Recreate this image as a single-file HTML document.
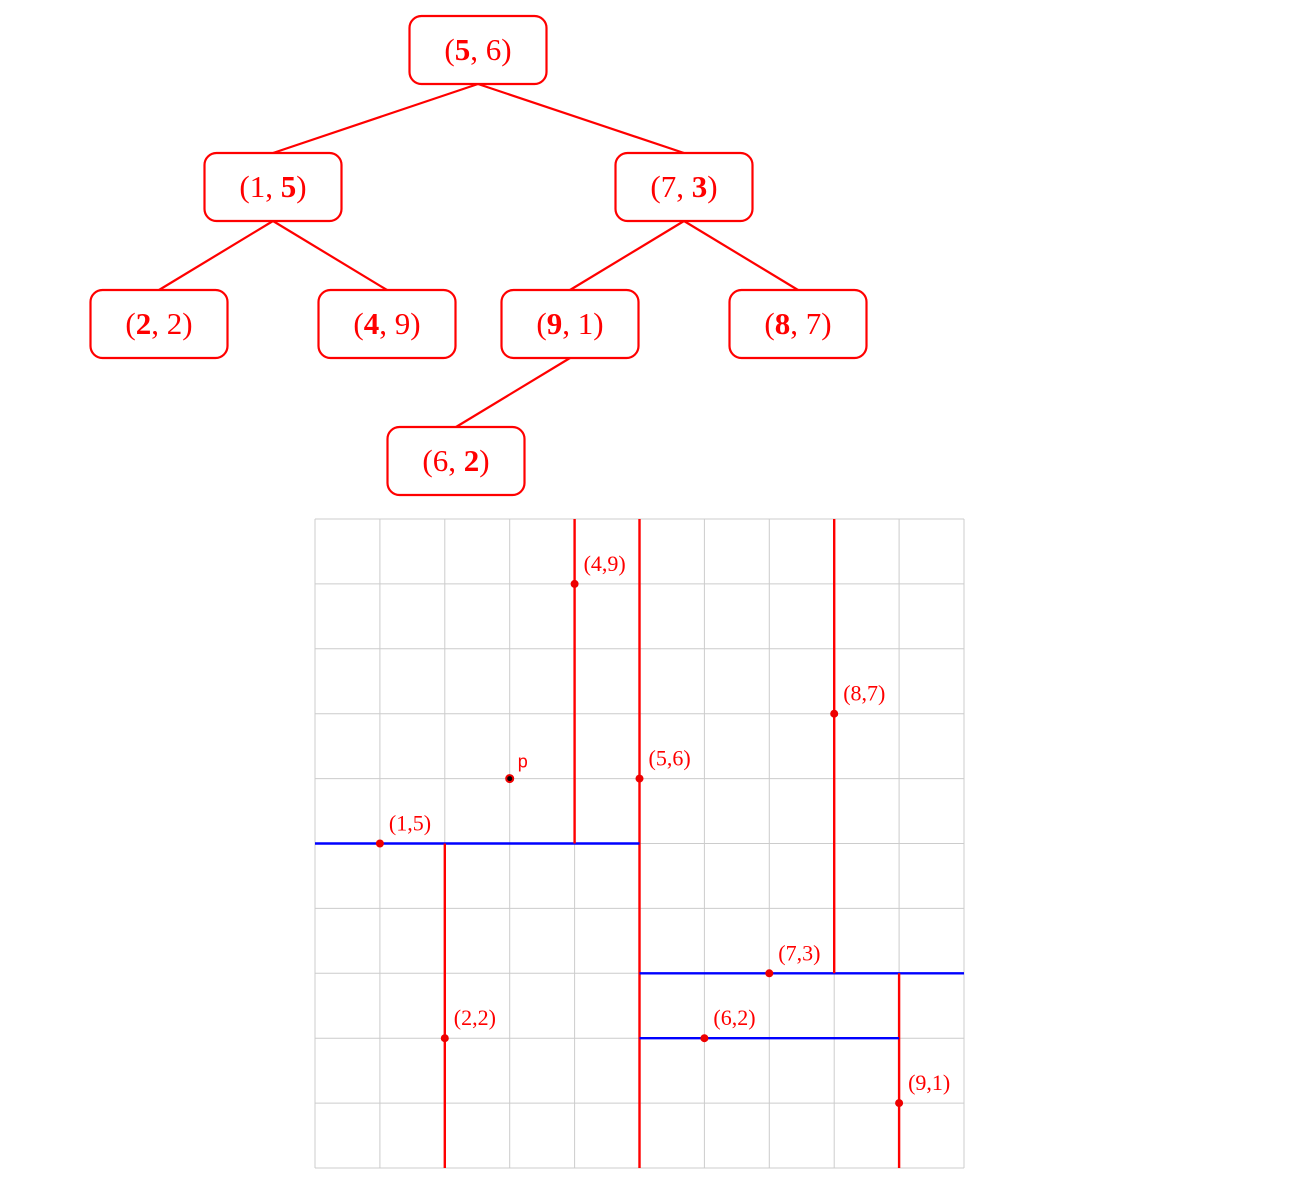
<!DOCTYPE html>
<html><head><meta charset="utf-8"><style>
html,body{margin:0;padding:0;background:#fff;}
svg{display:block;}
text{font-family:"Liberation Serif",serif;fill:#f00;}
</style></head><body>
<svg id="c" width="1291" height="1188" xmlns="http://www.w3.org/2000/svg"></svg>
<script>
const nodeLabels=[["5","6",0],["1","5",1],["7","3",1],["2","2",0],["4","9",0],["9","1",0],["8","7",0],["6","2",1]];
const nodeCenters=[[478,50],[273,187],[684,187],[159,324],[387,324],[570,324],[798,324],[456,461]];
const edges=[[0,1],[0,2],[1,3],[1,4],[2,5],[2,6],[5,7]];
const pointsX=[5,1,7,2,4,9,8,6];
const pointsY=[6,5,3,2,9,1,7,2];
const queryPoint=[3,6];
// splitting lines: [axis, value, from, to]
const splitAxis=["x","y","x","x","y","x","x","y"];
const splitVal=[5,5,4,2,3,8,9,2];
const splitFrom=[0,0,5,0,5,3,0,5];
const splitTo=[10,5,10,5,10,10,3,9];
const gridTicks=[0,1,2,3,4,5,6,7,8,9,10];

const svg=document.getElementById('c');
const NS="http://www.w3.org/2000/svg";
function mk(t,a,p){const e=document.createElementNS(NS,t);for(const k in a)e.setAttribute(k,a[k]);(p||svg).appendChild(e);return e;}
const X0=315,X1=964,Y0=1168,Y1=519;
const sx=v=>X0+(X1-X0)*v/10, sy=v=>Y0-(Y0-Y1)*v/10;
const W=137,H=68;
edges.forEach(([a,b])=>{
  const l=mk('line',{x1:nodeCenters[a][0],y1:nodeCenters[a][1]+H/2,x2:nodeCenters[b][0],y2:nodeCenters[b][1]-H/2,stroke:'#f00','stroke-width':2.2});
  
  
});
nodeLabels.forEach((n,i)=>{
  const [cx,cy]=nodeCenters[i];
  const r=mk('rect',{x:cx-W/2,y:cy-H/2,width:W,height:H,rx:12,fill:'#fff',stroke:'#f00','stroke-width':2.2});
  
  
  const t=mk('text',{x:cx,y:cy+10,'text-anchor':'middle','font-size':31});
  
  
  const b=n[2];
  t.innerHTML='('+(b===0?'<tspan font-weight="bold">'+n[0]+'</tspan>':n[0])+', '+(b===1?'<tspan font-weight="bold">'+n[1]+'</tspan>':n[1])+')';
});
gridTicks.forEach(v=>{
  let g=mk('line',{x1:sx(v),y1:Y0,x2:sx(v),y2:Y1,stroke:'#ccc','stroke-width':1});
  
  
  g=mk('line',{x1:X0,y1:sy(v),x2:X1,y2:sy(v),stroke:'#ccc','stroke-width':1});
  
  
});
splitAxis.forEach((a,i)=>{
  let l;
  if(a==='x') l=mk('line',{x1:sx(splitVal[i]),x2:sx(splitVal[i]),y1:sy(splitFrom[i]),y2:sy(splitTo[i]),stroke:'#f00','stroke-width':2.4});
  else l=mk('line',{y1:sy(splitVal[i]),y2:sy(splitVal[i]),x1:sx(splitFrom[i]),x2:sx(splitTo[i]),stroke:'#00f','stroke-width':2.4});
  
  
});
pointsX.forEach((x,i)=>{
  const c=mk('circle',{cx:sx(x),cy:sy(pointsY[i]),r:4,fill:'#e00'});
  
  
  const t=mk('text',{x:sx(x)+9,y:sy(pointsY[i])-13,'font-size':22});
  
  
  t.textContent='('+x+','+pointsY[i]+')';
});
const q=mk('circle',{cx:sx(queryPoint[0]),cy:sy(queryPoint[1]),r:3.5,fill:'#000',stroke:'#e00','stroke-width':2});


const qt=mk('text',{x:sx(queryPoint[0])+8,y:sy(queryPoint[1])-11,'font-size':18,style:'font-family:"Liberation Sans",sans-serif'});


qt.textContent='p';
</script>
</body></html>
